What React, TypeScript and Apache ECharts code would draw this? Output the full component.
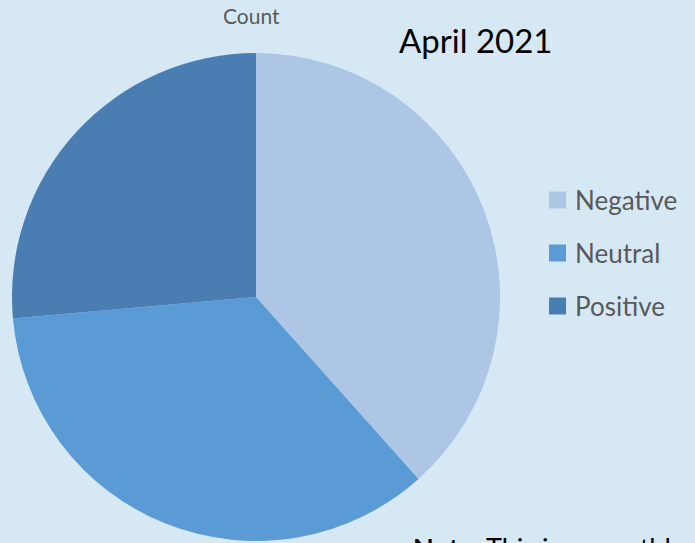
import React, { useEffect, useRef } from "react";
import * as echarts from "echarts";

const categories = ["Negative", "Neutral", "Positive"];
const counts = [48, 44, 33];
const colors = ["#AEC6E6", "#5B9BD5", "#4A7EB2"];
const seriesName = "Count";
const title = "April 2021";
const noteBold = "Note:";
const noteText = " This is a monthly update of sentiment";

const FONT = "Lato, 'Open Sans', sans-serif";

export default function App() {
  const ref = useRef<HTMLDivElement>(null);
  useEffect(() => {
    if (!ref.current) return;
    const chart = echarts.init(ref.current, null, { renderer: "svg" });
    chart.setOption({
      animation: false,
      backgroundColor: "#D7E8F5",
      legend: {
        orient: "vertical",
        left: 544,
        top: 182,
        icon: "rect",
        itemWidth: 17,
        itemHeight: 17,
        itemGap: 27,
        data: categories,
        textStyle: {
          fontFamily: FONT,
          fontSize: 26,
          color: "#595959",
          padding: [0, 0, 0, 4],
        },
      },
      graphic: [
        {
          type: "text",
          left: 223,
          top: 5,
          style: { text: seriesName, fontFamily: FONT, fontSize: 21, fill: "#595959" },
        },
        {
          type: "text",
          left: 399,
          top: 23,
          style: { text: title, fontFamily: FONT, fontSize: 33, fill: "#000000" },
        },
        {
          type: "text",
          left: 413,
          top: 534,
          style: {
            text: "{b|" + noteBold + "}{n|" + noteText + "}",
            rich: {
              b: { fontFamily: FONT, fontSize: 27, fontWeight: "bold", fill: "#000" },
              n: { fontFamily: FONT, fontSize: 27, fill: "#000" },
            },
          },
        },
      ],
      series: [
        {
          name: seriesName,
          type: "pie",
          center: [256, 297],
          radius: 244,
          startAngle: 90,
          clockwise: true,
          label: { show: false },
          labelLine: { show: false },
          itemStyle: { borderWidth: 0 },
          emphasis: { disabled: true },
          data: categories.map((c, i) => ({ name: c, value: counts[i], itemStyle: { color: colors[i] } })),
        },
      ],
    });
    return () => chart.dispose();
  }, []);
  return <div ref={ref} style={{ position: "fixed", left: 0, top: 0, width: 695, height: 543 }} />;
}
